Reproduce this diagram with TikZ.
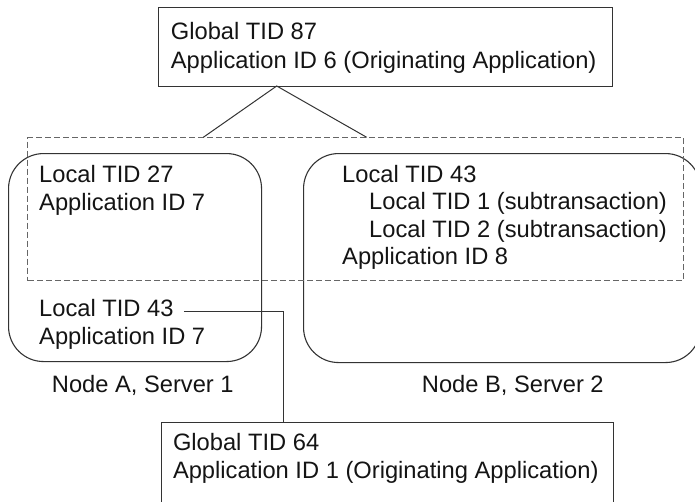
\documentclass[tikz,border=0pt]{standalone}
\usepackage{fontspec}
\setmainfont{Liberation Sans}
\begin{document}
\begin{tikzpicture}[x=1pt,y=-1pt,
  txt/.style={anchor=base west,inner sep=0pt,font=\fontsize{23.7}{28}\selectfont,text=black!92},
  frame/.style={draw=black!80,line width=1.1pt,inner sep=0pt,anchor=north west},
  server/.style={frame,rounded corners=35pt},
  scopebox/.style={draw=black!60,line width=1pt,dash pattern=on 6pt off 3pt},
  link/.style={draw=black!80,line width=1pt}]
\useasboundingbox (0,0) rectangle (695,501);
\clip (0,0) rectangle (695,501);

% global transaction of application 6
\node[frame,minimum width=453.4pt,minimum height=78.7pt] (gtop) at (158.3,7.3) {};
\node[txt] (gt87) at (170.7,39.5) {Global TID 87};
\node[txt] (ga6) at (170.7,68) {Application ID 6 (Originating Application)};

% servers
\node[server,minimum width=253pt,minimum height=208pt] (srvA) at (8,153) {};
\node[server,minimum width=397pt,minimum height=209pt] (srvB) at (303,153) {};

% scope of global TID 87
\node[scopebox,inner sep=0pt,anchor=north west,minimum width=655.7pt,minimum height=142.7pt] (scope) at (27.3,137.3) {};

% branches from the global transaction to its scope
\coordinate (apex) at (276.7,86);
\coordinate (dl) at (203.3,137.3);
\coordinate (dr) at (366.7,137.3);
\draw[link] (dl) -- (apex) -- (dr);

% node A
\node[txt] (a27) at (39,182) {Local TID 27};
\node[txt] (a7) at (39,210.5) {Application ID 7};
\node[txt] (lt43) at (39,316.5) {Local TID 43};
\node[txt] (a7b) at (39,344.5) {Application ID 7};
\node[txt] (nA) at (51.7,392.5) {Node A, Server 1};

% node B
\node[txt] (b43) at (342,182) {Local TID 43};
\node[txt] (b1) at (369,209.5) {Local TID 1 (subtransaction)};
\node[txt] (b2) at (369,237) {Local TID 2 (subtransaction)};
\node[txt] (b8) at (342,264.5) {Application ID 8};
\node[txt] (nB) at (421.7,392.5) {Node B, Server 2};

% global transaction of application 1
\node[frame,minimum width=452.6pt,minimum height=120pt] (gbot) at (160.7,422) {};
\node[txt] (gt64) at (172.8,450.5) {Global TID 64};
\node[txt] (ga1) at (172.8,478.5) {Application ID 1 (Originating Application)};

% link from local TID 43 to global TID 64
\coordinate (bend) at (283.3,311.2);
\draw[link] ([xshift=10pt]lt43.east |- bend) -- (bend) -- (bend |- gbot.north);
\end{tikzpicture}
\end{document}
